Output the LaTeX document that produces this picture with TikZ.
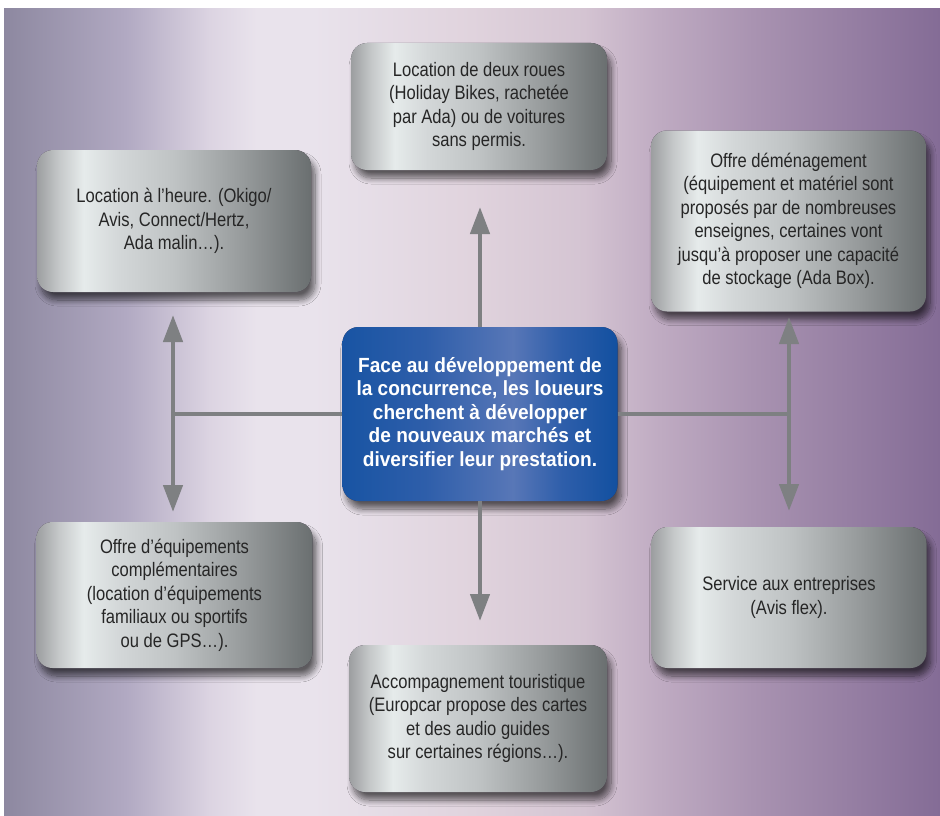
\documentclass[tikz,border=0pt]{standalone}
\usepackage{fontspec}
\setmainfont{Liberation Sans}[FakeStretch=0.85, BoldFeatures={FakeStretch=0.93}]
\usetikzlibrary{arrows.meta,shadows.blur}

% colours of the backdrop, the steel panels and the blue hub
\definecolor{bgA}{HTML}{8D88A0}
\definecolor{bgB}{HTML}{B1A9C2}
\definecolor{bgC}{HTML}{DCD4E2}
\definecolor{bgD}{HTML}{E9E3EC}
\definecolor{bgE}{HTML}{E0D3DD}
\definecolor{bgF}{HTML}{D4C4D2}
\definecolor{bgG}{HTML}{BFABC2}
\definecolor{bgH}{HTML}{A993B1}
\definecolor{bgI}{HTML}{846C96}
\definecolor{steelA}{HTML}{9C9EA0}
\definecolor{steelB}{HTML}{C5C8C9}
\definecolor{steelC}{HTML}{E6EBEB}
\definecolor{steelD}{HTML}{D3D7D8}
\definecolor{steelE}{HTML}{BFC3C4}
\definecolor{steelF}{HTML}{979B9C}
\definecolor{steelG}{HTML}{6A6F70}
\definecolor{blueA}{HTML}{1854A3}
\definecolor{blueB}{HTML}{2E5EAA}
\definecolor{blueC}{HTML}{5877B7}
\definecolor{blueD}{HTML}{1250A0}
\definecolor{inkgrey}{HTML}{262626}
\definecolor{linkgrey}{HTML}{7E8082}
\definecolor{shadowink}{HTML}{3A2E40}

\pgfdeclarehorizontalshading{backdrop}{100bp}{color(0bp)=(bgA); color(25bp)=(bgA);
  color(31.5bp)=(bgB); color(36bp)=(bgC); color(38.5bp)=(bgD); color(41.5bp)=(bgD);
  color(50bp)=(bgE); color(56bp)=(bgF); color(60bp)=(bgG); color(65bp)=(bgH);
  color(75bp)=(bgI); color(100bp)=(bgI)}
\pgfdeclarehorizontalshading{metal}{100bp}{color(0bp)=(steelA); color(25bp)=(steelA);
  color(29bp)=(steelB); color(33.5bp)=(steelC); color(40bp)=(steelD); color(50bp)=(steelE);
  color(62.5bp)=(steelF); color(75bp)=(steelG); color(100bp)=(steelG)}
\pgfdeclarehorizontalshading{bluesteel}{100bp}{color(0bp)=(blueA); color(25bp)=(blueA);
  color(40bp)=(blueB); color(56bp)=(blueC); color(65bp)=(blueB);
  color(75bp)=(blueD); color(100bp)=(blueD)}

\tikzset{
  panel/.style={rounded corners=16pt, shading=metal, inner sep=0pt, align=center,
    blur shadow={shadow xshift=4pt, shadow yshift=-8pt, shadow blur radius=6pt,
      shadow opacity=60, shadow blur extra rounding=4pt, shadow blur steps=10,
      fill=shadowink},
    text=inkgrey, font=\fontsize{19.5}{23.5}\selectfont},
  hub/.style={panel, shading=bluesteel, text=white,
    font=\bfseries\fontsize{20.5}{23.5}\selectfont},
  link/.style={draw=linkgrey, line width=4.5pt},
  twoway/.style={link, {Triangle[width=19pt,length=27pt]}-{Triangle[width=19pt,length=27pt]}},
  oneway/.style={link, -{Triangle[width=19pt,length=27pt]}}
}

\begin{document}
\begin{tikzpicture}[x=1pt,y=-1pt]
\useasboundingbox (0,0) rectangle (940,816);
% backdrop
\shade[shading=backdrop] (4,9) rectangle (940,816);

% central question
\node[hub, minimum width=275pt, minimum height=174pt] (hub) at (480,414)
  {Face au développement de\\la concurrence, les loueurs\\cherchent à développer\\de nouveaux marchés et\\diversifier leur prestation.};

% the six answers
\node[panel, minimum width=256pt, minimum height=127pt] (roues) at (479,106.5)
  {Location de deux roues\\(Holiday Bikes, rachetée\\par Ada) ou de voitures\\sans permis.};
\node[panel, minimum width=274pt, minimum height=142pt] (heure) at (174,221)
  {Location à l’heure. (Okigo/\\Avis, Connect/Hertz,\\Ada malin\dots).};
\node[panel, minimum width=275pt, minimum height=181pt] (demenag) at (788.5,221)
  {Offre déménagement\\(équipement et matériel sont\\proposés par de nombreuses\\enseignes, certaines vont\\jusqu’à proposer une capacité\\de stockage (Ada Box).};
\node[panel, minimum width=276pt, minimum height=146pt] (equip) at (174.5,595)
  {Offre d’équipements\\complémentaires\\(location d’équipements\\familiaux ou sportifs\\ou de GPS\dots).};
\node[panel, minimum width=275pt, minimum height=141pt] (entreprises) at (789,597.5)
  {Service aux entreprises\\(Avis flex).};
\node[panel, minimum width=258pt, minimum height=147pt] (touris) at (478,718.5)
  {Accompagnement touristique\\(Europcar propose des cartes\\et des audio guides\\sur certaines régions\dots).};

% junctions and free arrow ends
\coordinate (jl) at (173,414);
\coordinate (jr) at (789,414);
\coordinate (lup) at (173,315);
\coordinate (ldown) at (173,512);
\coordinate (rup) at (789,317);
\coordinate (rdown) at (789,511);
\coordinate (cup) at (480,207);
\coordinate (cdown) at (480,621);

% connectors
\draw[link] (hub.west) -- (jl);
\draw[link] (hub.east) -- (jr);
\draw[twoway] (lup) -- (ldown);
\draw[twoway] (rup) -- (rdown);
\draw[oneway] (hub.north) -- (cup);
\draw[oneway] (hub.south) -- (cdown);
\end{tikzpicture}
\end{document}
